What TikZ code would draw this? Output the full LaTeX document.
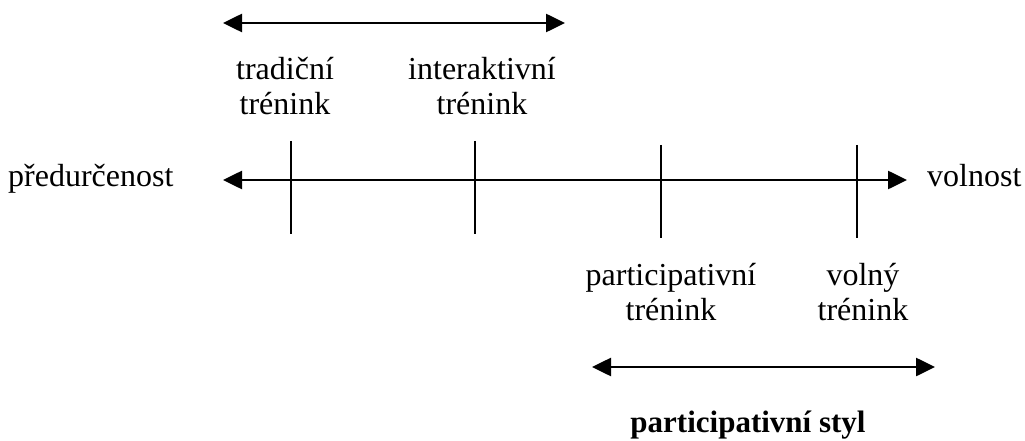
\documentclass[tikz,border=0pt]{standalone}
\usepackage{fontspec}
\setmainfont{Liberation Serif}
\usetikzlibrary{arrows.meta}

\begin{document}
\begin{tikzpicture}[x=1pt,y=-1pt,
    span/.style={line width=2.6pt,{Triangle[length=19pt,width=18pt]}-{Triangle[length=19pt,width=18pt]}},
    tickline/.style={line width=1.6pt},
    lbl/.style={font=\fontsize{32}{35}\selectfont,align=center,inner sep=0pt}]
                \useasboundingbox (0,0) rectangle (1025,441);

                % axis and its ends
                \coordinate (axl) at (223,180);
                \coordinate (axr) at (907,180);
                \draw[span] (axl) -- (axr);
                \node[lbl,anchor=base west] (pred) at (8,186) {předurčenost};
                \node[lbl,anchor=base west] (voln) at (927,186) {volnost};

                % ticks
                \coordinate (t1a) at (291,141); \coordinate (t1b) at (291,234);
                \coordinate (t2a) at (475,141); \coordinate (t2b) at (475,234);
                \coordinate (t3a) at (661,145); \coordinate (t3b) at (661,238);
                \coordinate (t4a) at (857,145); \coordinate (t4b) at (857,238);
                \draw[tickline] (t1a) -- (t1b);
                \draw[tickline] (t2a) -- (t2b);
                \draw[tickline] (t3a) -- (t3b);
                \draw[tickline] (t4a) -- (t4b);

                % labels of the ticks (base = last line)
                \node[lbl,anchor=base] (trad) at (285,115) {tradiční\\trénink};
                \node[lbl,anchor=base] (inter) at (482,115) {interaktivní\\trénink};
                \node[lbl,anchor=base] (part) at (671,320) {participativní\\trénink};
                \node[lbl,anchor=base] (volny) at (863,320) {volný\\trénink};

                % upper and lower spans
                \coordinate (ul) at (223,23);
                \coordinate (ur) at (565,23);
                \draw[span] (ul) -- (ur);
                \coordinate (ll) at (592,367);
                \coordinate (lr) at (935,367);
                \draw[span] (ll) -- (lr);
                \node[lbl,font=\fontsize{31}{35}\selectfont\bfseries,anchor=base] (styl) at (748,432) {participativní styl};
            \end{tikzpicture}
\end{document}
